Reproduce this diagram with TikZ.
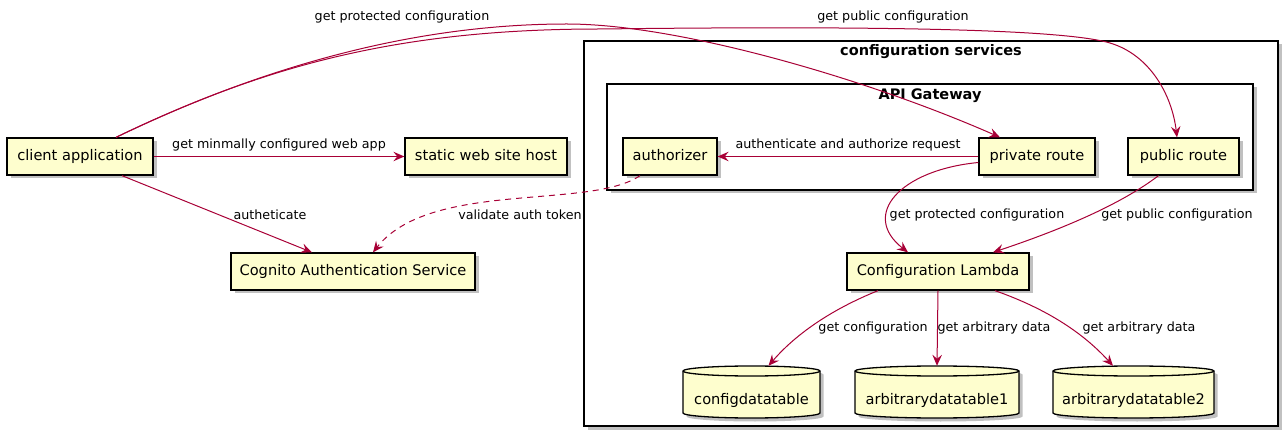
\documentclass[tikz,border=0pt]{standalone}
\usepackage{fontspec}
\setmainfont{DejaVu Sans}
\usetikzlibrary{arrows.meta,shadows,calc}
\definecolor{boxfill}{HTML}{FEFECE}
\definecolor{arrowc}{HTML}{A80036}
\tikzset{
  shade/.style={drop shadow={shadow xshift=3.5pt,shadow yshift=-3.5pt,opacity=0.35,fill=black!70}},
  comp/.style={rectangle,draw=black,line width=1.3pt,fill=boxfill,shade,
    font=\fontsize{14.6}{17}\selectfont,text height=10.5pt,text depth=3pt,
    inner sep=0pt,minimum height=37pt},
  frame/.style={rectangle,draw=black,line width=1.3pt,fill=white,shade,inner sep=0pt},
  ftitle/.style={font=\fontsize{14.5}{17}\selectfont\bfseries,inner sep=0pt},
  lab/.style={font=\fontsize{12.7}{15}\selectfont,inner sep=0pt},
  conn/.style={draw=arrowc,line width=1pt,-{Stealth[length=11pt,width=9.5pt,inset=4pt]}},
  dashconn/.style={conn,dash pattern=on 6pt off 5pt},
  dbshape/.style={draw=black,line width=1.3pt,fill=boxfill,shade},
  dbline/.style={draw=black,line width=1.3pt},
  dbtext/.style={rectangle,inner sep=0pt,minimum height=52pt,
    font=\fontsize{14.6}{17}\selectfont,text height=26pt,text depth=2pt}
}
\newcommand\dbnode[4]{%
  \draw[dbshape] (#2-#3,-371) -- (#2-#3,-413)
    arc[start angle=180,end angle=360,x radius=#3pt,y radius=5pt]
    -- (#2+#3,-371)
    arc[start angle=0,end angle=180,x radius=#3pt,y radius=5pt] -- cycle;
  \draw[dbline] (#2-#3,-371) arc[start angle=180,end angle=360,x radius=#3pt,y radius=5pt];
  \node[dbtext,minimum width=2*#3pt] (#1) at (#2,-392) {#4};
}
\begin{document}
\begin{tikzpicture}[x=1pt,y=1pt]
\useasboundingbox (0,0) rectangle (1288,-438);
% containers
\node[frame,minimum width=694pt,minimum height=385pt] (cs) at (931,-233.5) {};
\node[ftitle] (cstitle) at (931,-52) {configuration services};
\node[frame,minimum width=646pt,minimum height=106pt] (api) at (930,-137) {};
\node[ftitle] (apititle) at (930,-96) {API Gateway};
% components
\node[comp,minimum width=146pt] (client) at (80,-156.5) {client application};
\node[comp,minimum width=162pt] (static) at (486,-156.5) {static web site host};
\node[comp,minimum width=244pt] (cognito) at (353,-271.5) {Cognito Authentication Service};
\node[comp,minimum width=94pt] (authorizer) at (670,-156.5) {authorizer};
\node[comp,minimum width=116pt] (private) at (1037,-156.5) {private route};
\node[comp,minimum width=111pt] (public) at (1183.5,-156.5) {public route};
\node[comp,minimum width=182pt] (lambda) at (938,-271.5) {Configuration Lambda};
% databases
\dbnode{cd}{751.5}{68.5}{configdatatable}
\dbnode{arbone}{937}{82}{arbitrarydatatable1}
\dbnode{arbtwo}{1133.5}{80.5}{arbitrarydatatable2}
% connectors
\draw[conn] (client.east) -- (static.west);
\draw[conn] ($(client.south)+(42,0)$) -- ($(cognito.north)+(-41,0)$);
\draw[conn] ($(client.north)+(36,0)$) .. controls (266,-65) and (417,-24) .. (567,-24)
  .. controls (680,-24) and (870,-80) .. ($(private.north)+(-37,0)$);
\draw[conn] ($(client.north)+(36,0)$) .. controls (266,-65) and (400,-29) .. (600,-29)
  .. controls (850,-26) and (1060,-28) .. (1110,-43)
  .. controls (1150,-55) and (1172,-95) .. ($(public.north)+(-6.5,0)$);
\draw[conn] (private.west) -- (authorizer.east);
\draw[conn] ($(private.west)+(0,-6)$) .. controls (900,-170) and (860,-215) .. ($(lambda.north)+(-30,0)$);
\draw[conn] ($(public.south)+(-25,0)$) .. controls (1120,-205) and (1060,-230) .. ($(lambda.north)+(55,0)$);
\draw[dashconn] ($(authorizer.south)+(-30,0)$) .. controls (590,-210) and (430,-180) .. ($(cognito.north)+(20,0)$);
\draw[conn] ($(lambda.south)+(-60,0)$) .. controls (830,-310) and (795,-335) .. ($(cd.north)+(17,0)$);
\draw[conn] (lambda.south) -- (arbone.north);
\draw[conn] ($(lambda.south)+(57,0)$) .. controls (1050,-310) and (1085,-335) .. ($(arbtwo.north)+(-20.5,0)$);
% labels
\node[lab] (l1) at (279,-145) {get minmally configured web app};
\node[lab] (l2) at (270,-215) {autheticate};
\node[lab] (l3) at (520,-215) {validate auth token};
\node[lab] (l4) at (848,-145) {authenticate and authorize request};
\node[lab] (l5) at (977,-215) {get protected configuration};
\node[lab] (l6) at (1177,-215) {get public configuration};
\node[lab] (l7) at (873,-328) {get configuration};
\node[lab] (l8) at (994,-328) {get arbitrary data};
\node[lab] (l9) at (1139,-328) {get arbitrary data};
\node[lab] (l10) at (402,-17) {get protected configuration};
\node[lab] (l11) at (893,-17) {get public configuration};
\end{tikzpicture}
\end{document}
